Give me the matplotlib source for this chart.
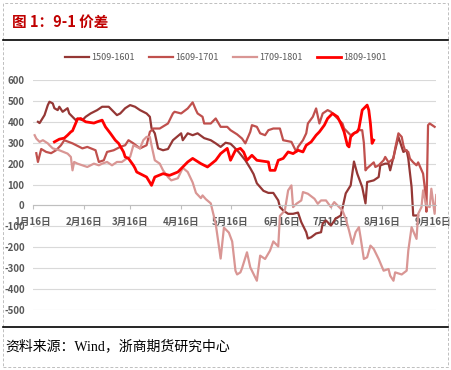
import matplotlib
matplotlib.use("Agg")
import matplotlib.pyplot as plt
from matplotlib.patches import Rectangle
from matplotlib.lines import Line2D
import pandas as pd

plt.rcParams['font.family'] = ['Noto Sans CJK SC', 'DejaVu Sans']

# ---------------- data (day offset from Jan 16, value) ----------------
labels = ["1509-1601", "1609-1701", "1709-1801", "1809-1901"]
colors = ["#953735", "#C0504D", "#D99694", "#FF0000"]

s1509 = [(3,400),(4,394),(7,432),(9,480),(10,496),(12,488),(13,465),(15,456),(16,472),(18,448),
         (21,465),(22,440),(24,424),(26,408),(27,416),(30,408),(32,424),(35,440),(39,456),(42,472),
         (46,472),(51,432),(53,440),(56,465),(59,480),(62,472),(65,456),(69,440),(71,424),(72,370),
         (74,345),(76,273),(79,264),(82,270),(85,312),(90,345),(91,312),(94,345),(97,336),(100,345),
         (104,322),(108,312),(111,297),(114,280),(117,300),(120,295),(122,280),(125,255),(129,216),
         (132,178),(134,150),(136,106),(140,70),(143,60),(146,60),(149,24),(150,-8),(152,-24),
         (155,-40),(158,-40),(161,-34),(163,-80),(166,-128),(167,-158),(169,-152),(172,-134),
         (175,-128),(176,-86),(178,-72),(181,-96),(184,-62),(187,-48),(190,58),(193,96),(195,210),
         (197,152),(200,88),(202,10),(203,112),(207,120),(210,136),(211,192),(214,200),(216,200),
         (217,168),(219,232),(220,264),(222,328),(225,256),(227,264),(228,224),(230,88),(231,-48),
         (234,-48)]

s1609 = [(2,250),(3,208),(5,270),(8,256),(11,250),(14,264),(17,288),(19,312),(24,297),(30,273),
         (33,280),(38,264),(40,208),(43,216),(45,256),(49,264),(53,280),(56,288),(58,312),(61,297),
         (65,273),(69,288),(71,352),(73,368),(77,368),(82,392),(85,440),(86,448),(90,440),(94,464),
         (97,493),(99,456),(100,440),(103,424),(104,392),(108,392),(111,416),(114,376),(118,376),
         (120,360),(124,340),(127,320),(129,297),(132,352),(133,384),(136,376),(138,345),(141,336),
         (143,360),(146,368),(150,368),(152,312),(157,304),(158,288),(160,256),(161,280),(164,312),
         (166,345),(167,392),(170,424),(172,464),(174,392),(176,440),(179,456),(181,448),(184,424),
         (188,392),(189,368),(193,336),(198,360),(200,360),(201,300),(202,168),(203,178),(205,192),
         (207,206),(208,184),(210,192),(213,216),(214,232),(216,206),(219,224),(220,272),(222,345),
         (224,328),(225,288),(226,264),(228,256),(229,224),(231,206),(233,192),(234,206),(237,152),
         (238,86),(239,-30),(240,384),(241,392),(244,376)]

s1709 = [(1,336),(2,320),(4,304),(6,312),(9,297),(10,288),(12,273),(16,264),(21,248),(23,232),
         (24,168),(25,208),(27,200),(30,192),(33,184),(37,200),(40,192),(42,200),(45,208),(48,192),
         (51,208),(54,208),(57,225),(59,232),(61,288),(65,273),(67,312),(69,328),(71,328),(72,288),
         (74,216),(77,200),(79,168),(82,136),(84,120),(88,130),(91,180),(94,160),(97,110),(99,60),
         (102,35),(103,48),(105,30),(108,10),(111,-88),(114,-254),(116,-106),(119,-130),(121,-172),
         (123,-312),(124,-330),(126,-320),(127,-300),(130,-224),(132,-296),(136,-360),(138,-240),
         (141,-256),(144,-216),(146,-172),(149,-196),(150,-50),(153,-24),(155,72),(157,96),(158,-8),
         (160,8),(163,24),(164,64),(167,56),(171,32),(173,8),(175,24),(178,24),(181,-8),(183,16),
         (186,-8),(188,-24),(190,-64),(192,-120),(194,-184),(196,-128),(198,-104),(199,-152),
         (201,-256),(203,-248),(205,-192),(207,-208),(210,-256),(213,-312),(216,-304),(217,-336),
         (219,-360),(220,-320),(224,-330),(227,-312),(228,-216),(230,-104),(233,-160),(234,-40),
         (236,-8),(237,72),(239,0),(241,-8),(242,80),(244,-40),(245,50)]

s1809 = [(13,304),(16,317),(19,322),(21,336),(23,352),(24,357),(26,394),(27,413),(29,416),(32,400),
         (37,394),(39,400),(42,408),(44,376),(47,345),(50,312),(52,297),(55,256),(56,232),(58,225),
         (61,192),(62,178),(63,160),(69,136),(71,110),(72,96),(74,136),(79,152),(83,144),(88,160),
         (91,184),(94,208),(97,225),(102,200),(106,184),(111,216),(114,248),(118,273),(120,216),
         (122,248),(123,264),(126,273),(128,255),(130,216),(133,240),(136,216),(143,208),(144,168),
         (147,168),(149,216),(152,225),(155,256),(158,248),(161,264),(164,256),(166,288),(169,304),
         (172,336),(174,352),(177,384),(179,416),(182,440),(185,424),(187,392),(189,352),(191,288),
         (192,280),(193,328),(195,345),(197,352),(198,368),(200,456),(203,480),(204,456),(205,392),
         (206,297),(207,312)]

series = [s1509, s1609, s1709, s1809]
tick_labels = ["1月16日", "2月16日", "3月16日", "4月16日", "5月16日",
               "6月16日", "7月16日", "8月16日", "9月16日"]
tick_dates = ["2015-01-16", "2015-02-16", "2015-03-16", "2015-04-16", "2015-05-16",
              "2015-06-16", "2015-07-16", "2015-08-16", "2015-09-16"]
y_ticks = [600, 500, 400, 300, 200, 100, 0, -100, -200, -300, -400, -500]

start = pd.Timestamp("2015-01-16")

# ---------------- figure ----------------
W, H = 452, 370
fig = plt.figure(figsize=(W/100, H/100), dpi=100)

def fx(px): return px / W
def fy(py): return 1 - py / H

fig.add_artist(Rectangle((fx(3), fy(367)), fx(445), (364)/H, transform=fig.transFigure,
                         fill=False, ls=(0, (3, 2)), lw=0.7, ec="#BFBFBF"))
fig.text(fx(12), fy(22), "图 1：9-1 价差", color="#C00000", fontsize=10.5,
         fontweight="bold", va="center", ha="left")
fig.add_artist(Line2D([fx(3), fx(448)], [fy(40), fy(40)], color="black", lw=1.2,
                      transform=fig.transFigure))
fig.add_artist(Line2D([fx(3), fx(448)], [fy(327), fy(327)], color="black", lw=1.2,
                      transform=fig.transFigure))
fig.text(fx(5), fy(346), "资料来源：Wind，浙商期货研究中心", fontsize=10,
         family=["Liberation Serif", "Noto Sans CJK SC"], va="center", ha="left", color="black")

ax = fig.add_axes([fx(33), fy(310), fx(436) - fx(33), (310 - 80) / H])

handles = []
for pts, lab, col in zip(series, labels, colors):
    d = [start + pd.Timedelta(days=p[0]) for p in pts]
    v = [p[1] for p in pts]
    lw = 2.0 if col == "#FF0000" else 1.6
    h, = ax.plot(d, v, color=col, lw=lw, label=lab, solid_joinstyle="round")
    handles.append(h)

ax.set_ylim(-500, 600)
ax.set_xlim(start, pd.Timestamp("2015-09-17 20:00"))
ax.set_yticks(y_ticks)
ax.set_yticklabels([str(t) for t in y_ticks])
ax.set_xticks([pd.Timestamp(t) for t in tick_dates])
ax.set_xticklabels(tick_labels)

for s in ["top", "right", "left"]:
    ax.spines[s].set_visible(False)
ax.spines["bottom"].set_position(("data", 0))
ax.spines["bottom"].set_color("#BFBFBF")
ax.spines["bottom"].set_linewidth(0.8)
ax.yaxis.grid(True, color="#D9D9D9", lw=0.8)
ax.set_axisbelow(True)
ax.tick_params(axis="y", length=0, labelsize=7, labelcolor="#595959", pad=6)
ax.tick_params(axis="x", length=3, color="#BFBFBF", labelsize=7, labelcolor="#595959",
               pad=5, direction="out")
for t in ax.get_xticklabels() + ax.get_yticklabels():
    t.set_fontweight("bold")

fig.legend(handles=handles, labels=labels, loc="center", bbox_to_anchor=(0.5, fy(58)),
           ncol=4, frameon=False, fontsize=6.5, handlelength=2.6, handletextpad=0.3,
           columnspacing=1.6, labelcolor="#595959")

fig.savefig("out.png", dpi=100)
